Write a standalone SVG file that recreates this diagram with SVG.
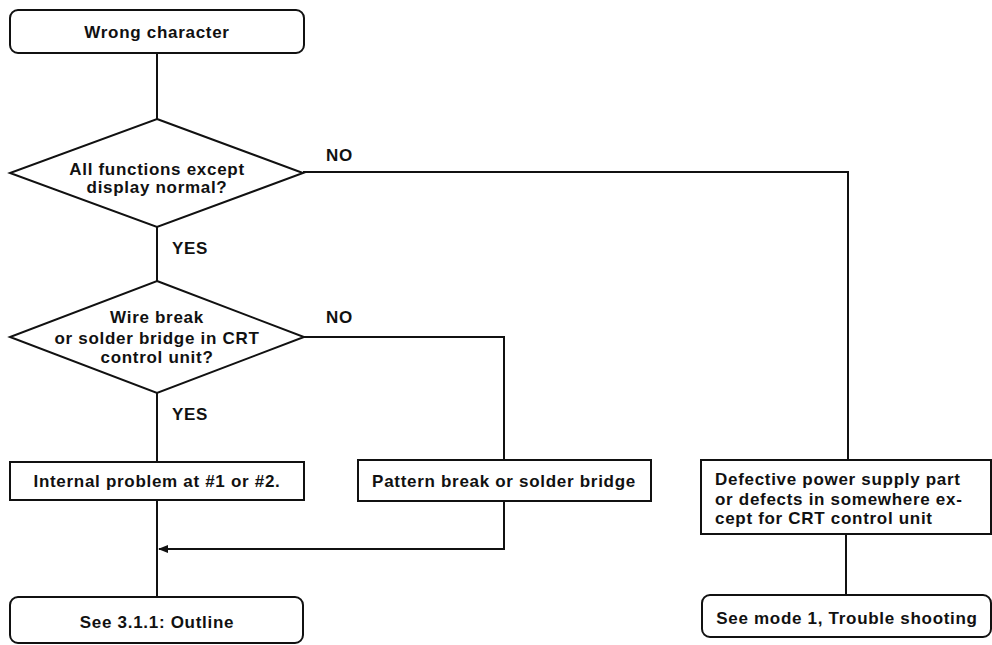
<svg xmlns="http://www.w3.org/2000/svg" width="992" height="645" viewBox="0 0 992 645">
<defs>
<style>
.box{fill:#fff;stroke:#111;stroke-width:2}
.ln{fill:none;stroke:#111;stroke-width:2}
text{font-family:"Liberation Sans",Arial,sans-serif;font-size:17px;font-weight:bold;fill:#111;letter-spacing:0.7px}
.c{text-anchor:middle}
</style>
<marker id="ah" viewBox="0 0 10 10" refX="9" refY="5" markerWidth="5" markerHeight="5" orient="auto" markerUnits="strokeWidth">
<path d="M0,1 L10,5 L0,9 z" fill="#111"/>
</marker>
</defs>
<rect width="992" height="645" fill="#fff"/>
<g id="connectors">
<path class="ln" d="M157,53 V119"/>
<path class="ln" d="M157,227 V281"/>
<path class="ln" d="M303,172 H848 V460"/>
<path class="ln" d="M304,337 H504 V460"/>
<path class="ln" d="M157,393 V462"/>
<path class="ln" d="M157,500 V597"/>
<path class="ln" d="M504,501 V549 H159" marker-end="url(#ah)"/>
<path class="ln" d="M846,534 V595"/>
<text x="326" y="161">NO</text>
<text x="326" y="323">NO</text>
<text x="172" y="254">YES</text>
<text x="172" y="420">YES</text>
</g>
<g id="start">
<rect class="box" x="10" y="10" width="294" height="43" rx="8"/>
<text class="c" x="157" y="38">Wrong character</text>
</g>
<g id="dec1">
<polygon class="box" points="157,119 303,173 157,227 10,173"/>
<text class="c" x="157" y="175">All functions except</text>
<text class="c" x="157" y="193">display normal?</text>
</g>
<g id="dec2">
<polygon class="box" points="157,281 304,337 157,393 10,337"/>
<text class="c" x="157" y="323">Wire break</text>
<text class="c" x="157" y="344">or solder bridge in CRT</text>
<text class="c" x="157" y="363">control unit?</text>
</g>
<g id="internal">
<rect class="box" x="10" y="462" width="294" height="38"/>
<text class="c" x="157" y="487">Internal problem at #1 or #2.</text>
</g>
<g id="pattern">
<rect class="box" x="358" y="460" width="293" height="41"/>
<text class="c" x="504" y="487">Pattern break or solder bridge</text>
</g>
<g id="defective">
<rect class="box" x="701" y="460" width="290" height="74"/>
<text x="715" y="485">Defective power supply part</text>
<text x="715" y="505">or defects in somewhere ex-</text>
<text x="715" y="524">cept for CRT control unit</text>
</g>
<g id="outline">
<rect class="box" x="10" y="597" width="293" height="46" rx="8"/>
<text class="c" x="157" y="628">See 3.1.1: Outline</text>
</g>
<g id="mode1">
<rect class="box" x="702" y="595" width="289" height="42" rx="8"/>
<text class="c" x="847" y="624">See mode 1, Trouble shooting</text>
</g>
</svg>
